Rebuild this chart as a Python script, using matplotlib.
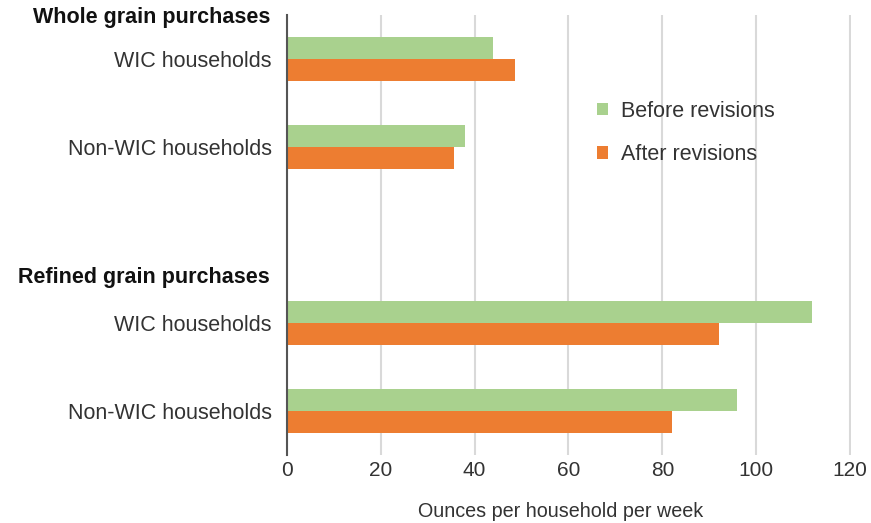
import numpy as np
import matplotlib.pyplot as plt

plt.rcParams['font.family'] = ['Liberation Sans', 'DejaVu Sans']

# Data
groups = ["Whole grain purchases", "Refined grain purchases"]
categories = ["WIC households", "Non-WIC households", "WIC households", "Non-WIC households"]
before = [44, 38, 112, 96]
after = [48.5, 35.5, 92, 82]
xticks = [0, 20, 40, 60, 80, 100, 120]

green = "#a9d18e"
orange = "#ed7d31"
txt = "#333333"

fig = plt.figure(figsize=(8.71, 5.23), dpi=100)
ax = fig.add_axes([0.3295, 0.130, 0.648, 0.841])

pos = np.array([0, 1, 3, 4])
h = 0.25
ax.barh(pos - h / 2, before, height=h, color=green, label="Before revisions", zorder=3)
ax.barh(pos + h / 2, after, height=h, color=orange, label="After revisions", zorder=3)

ax.set_ylim(4.5, -0.5)
ax.set_xlim(0, 120.3)
ax.set_xticks(xticks)
ax.set_xticklabels([str(t) for t in xticks], fontsize=15, color=txt)
ax.set_yticks(pos)
ax.set_yticklabels(categories, fontsize=15.5, color=txt)
ax.tick_params(axis='both', length=0)
ax.tick_params(axis='y', pad=11)
ax.tick_params(axis='x', pad=4)
ax.grid(axis='x', color="#d9d9d9", linewidth=1.5, zorder=0)
for s in ["top", "right", "bottom"]:
    ax.spines[s].set_visible(False)
ax.spines["left"].set_color("#555555")
ax.spines["left"].set_linewidth(1.5)
ax.spines["left"].set_zorder(4)

# group headers
ax.text(-0.030, -0.47, groups[0], transform=ax.get_yaxis_transform(), ha='right', va='center',
        fontsize=15.5, fontweight='bold', color="#111111")
ax.text(-0.030, 2.48, groups[1], transform=ax.get_yaxis_transform(), ha='right', va='center',
        fontsize=15.5, fontweight='bold', color="#111111")

ax.set_xlabel("Ounces per household per week", fontsize=14.2, color=txt, labelpad=16)
ax.xaxis.label.set_x(0.485)

ax.legend(loc='upper left', bbox_to_anchor=(0.515, 0.85), frameon=False, fontsize=15.5,
          handlelength=0.5, handleheight=0.5, handletextpad=0.6, labelspacing=1.05,
          labelcolor=txt)

fig.savefig("out.png", dpi=100)
